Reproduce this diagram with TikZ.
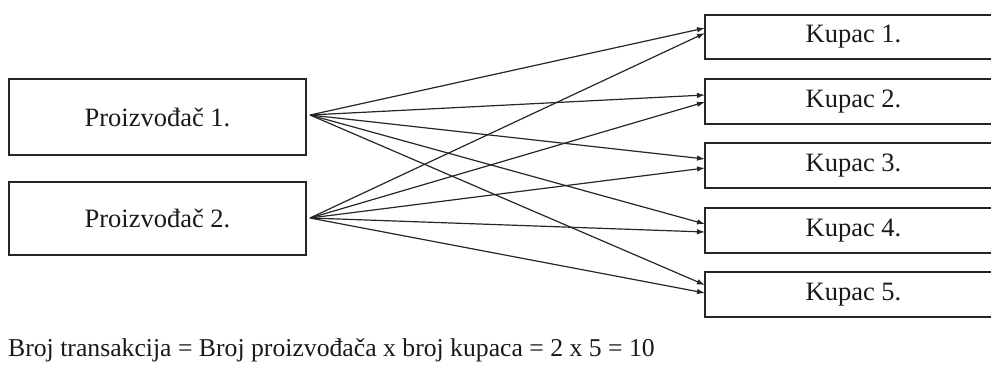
\documentclass[tikz,border=0pt]{standalone}
\usepackage{fontspec}
\setmainfont{Liberation Serif}
\usetikzlibrary{arrows.meta}
\begin{document}
\begin{tikzpicture}[x=1pt,y=-1pt,
  box/.style={draw=black!85,line width=1.5pt,rectangle,minimum width=297pt,inner sep=0pt,
    font=\fontsize{26.5}{30}\selectfont,text=black!90},
  link/.style={draw=black!85,line width=1.2pt,-{Latex[length=8pt,width=5.5pt]}}]
\useasboundingbox (0,0) rectangle (991,372);
\node[box,minimum height=76pt] (p1) at (157.5,117) {Proizvođač 1.};
\node[box,minimum height=73pt] (p2) at (157.5,218.5) {Proizvođač 2.};
\node[box,minimum height=44pt] (k1) at (853.5,37) {Kupac 1.};
\node[box,minimum height=45pt] (k2) at (853.5,101.5) {Kupac 2.};
\node[box,minimum height=45pt] (k3) at (853.5,165.5) {Kupac 3.};
\node[box,minimum height=45pt] (k4) at (853.5,230.5) {Kupac 4.};
\node[box,minimum height=45pt] (k5) at (853.5,294.5) {Kupac 5.};
\coordinate (s1) at (310,115);
\coordinate (s2) at (310,218);
\coordinate (a1) at (705,28);  \coordinate (b1) at (705,33);
\coordinate (a2) at (705,95);  \coordinate (b2) at (705,102);
\coordinate (a3) at (705,159); \coordinate (b3) at (705,168);
\coordinate (a4) at (705,224); \coordinate (b4) at (705,232);
\coordinate (a5) at (705,285); \coordinate (b5) at (705,293);
\foreach \i in {1,...,5}{
  \draw[link] (s1) -- (a\i);
  \draw[link] (s2) -- (b\i);
}
\node[anchor=base west,inner sep=0pt,font=\fontsize{25.7}{30}\selectfont,text=black!90] (eq) at (8,356)
  {Broj transakcija = Broj proizvođača x broj kupaca = 2 x 5 = 10};
\end{tikzpicture}
\end{document}
